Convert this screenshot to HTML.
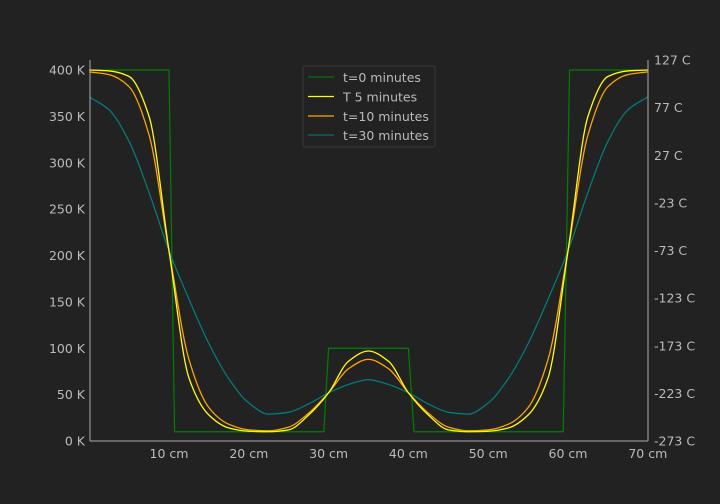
<!DOCTYPE html>
<html><head><meta charset="utf-8"><style>
html,body{margin:0;padding:0;background:#222222;}
svg{display:block;font-family:"DejaVu Sans","Liberation Sans",sans-serif;}
</style></head><body>
<svg id="chart" width="720" height="504" viewBox="0 0 720 504">
<rect width="720" height="504" fill="#222222"/>
<g id="plot"></g>
<g id="axes"></g>
<g>
<rect x="303" y="66" width="132" height="81" rx="2" fill="#222222" stroke="#3a3a3a"/>
<line x1="308" y1="77" x2="334" y2="77" stroke="#008000" stroke-width="1"/>
<text x="343" y="82" fill="#bbbbbb" font-size="12.5">t=0 minutes</text>
<line x1="308" y1="96.5" x2="334" y2="96.5" stroke="#ffff00" stroke-width="1.3"/>
<text x="343" y="101.5" fill="#bbbbbb" font-size="12.5">T 5 minutes</text>
<line x1="308" y1="116" x2="334" y2="116" stroke="#ffa500" stroke-width="1.3"/>
<text x="343" y="121" fill="#bbbbbb" font-size="12.5">t=10 minutes</text>
<line x1="308" y1="135" x2="334" y2="135" stroke="#008080" stroke-width="1"/>
<text x="343" y="140" fill="#bbbbbb" font-size="12.5">t=30 minutes</text>
</g>
</svg>
<script>
const t0X = [0,10,10.7,29.4,30,40,40.7,59.4,60.2,70];
const t0Y = [400,400,10,10,100,100,10,10,400,400];
const gridX = [0,2.5,5,7.5,10,12.5,15,17.5,20,22.5,25,27.5,30,32.5,35,37.5,40,42.5,45,47.5,50,52.5,55,57.5,60,62.5,65,67.5,70];
const t5Y  = [400,399,393,350,205,68,28,14,10.5,10,12,28,52,86,97,86,52,28,12,10,10.5,14,28,68,205,350,393,399,400];
const t10Y = [398,395,382,330,205,88,36,18,12,11,15,30,52,78,88,78,52,30,15,11,12,18,36,88,205,330,382,395,398];
const t30Y = [371,357,323,268,205,153,105,67,41,29,31,40,52,61,66,61,52,40,31,29,41,67,105,153,205,268,323,357,371];
const xTicks = [10,20,30,40,50,60,70];
const yTicks = [0,50,100,150,200,250,300,350,400];
const cTicks = [-273,-223,-173,-123,-73,-23,27,77,127];

const X0=89.2, XPX=7.98, Y0=441, YPX=0.9275;
function sx(v){return X0+v*XPX;}
function sy(v){return Y0-v*YPX;}
function cy(c){return 441-(c+273)*(381/400);}
const NS="http://www.w3.org/2000/svg";
const plot=document.getElementById('plot'), axes=document.getElementById('axes');
function mk(tag,attrs,parent){const e=document.createElementNS(NS,tag);for(const k in attrs)e.setAttribute(k,attrs[k]);parent.appendChild(e);return e;}

function curve(xs,ys,color,w,name){
  const d=xs.map((x,i)=>(i?'L':'M')+sx(x).toFixed(2)+','+sy(ys[i]).toFixed(2)).join(' ');
  const p=mk('path',{d:d,fill:'none',stroke:color,'stroke-width':w,'stroke-linejoin':'round'},plot);
  
  
}
function smooth(xs,ys,color,w,name){
  // monotone cubic (Fritsch-Carlson)
  const n=xs.length, h=[], dl=[], m=new Array(n);
  for(let i=0;i<n-1;i++){h[i]=xs[i+1]-xs[i];dl[i]=(ys[i+1]-ys[i])/h[i];}
  m[0]=dl[0];m[n-1]=dl[n-2];
  for(let i=1;i<n-1;i++){
    if(dl[i-1]*dl[i]<=0)m[i]=0;
    else{const w1=2*h[i]+h[i-1],w2=h[i]+2*h[i-1];m[i]=(w1+w2)/(w1/dl[i-1]+w2/dl[i]);}
  }
  let d='M'+sx(xs[0])+','+sy(ys[0]);
  for(let i=0;i<n-1;i++){
    const x1=xs[i]+h[i]/3,y1=ys[i]+m[i]*h[i]/3,x2=xs[i+1]-h[i]/3,y2=ys[i+1]-m[i+1]*h[i]/3;
    d+=' C'+sx(x1)+','+sy(y1)+' '+sx(x2)+','+sy(y2)+' '+sx(xs[i+1])+','+sy(ys[i+1]);
  }
  const p=mk('path',{d:d,fill:'none',stroke:color,'stroke-width':w},plot);
  
  
}
curve(t0X,t0Y,'#008000',1.2,'series-t0');
smooth(gridX,t30Y,'#008080',1.2,'series-t30');
smooth(gridX,t10Y,'#ffa500',1.3,'series-t10');
smooth(gridX,t5Y,'#ffff00',1.3,'series-t5');

const la=mk('line',{x1:90,y1:60,x2:90,y2:441,stroke:'#aaaaaa','stroke-width':1},axes);


const ra=mk('line',{x1:648,y1:60,x2:648,y2:441,stroke:'#aaaaaa','stroke-width':1},axes);


const ba=mk('line',{x1:90,y1:441,x2:648,y2:441,stroke:'#aaaaaa','stroke-width':1},axes);



xTicks.forEach(v=>{
  const t=mk('text',{x:sx(v),y:458,fill:'#bbbbbb','font-size':12.5,'text-anchor':'middle'},axes);
  t.textContent=v+' cm';
  
  
});
yTicks.forEach(v=>{
  const t=mk('text',{x:85,y:sy(v)+4.5,fill:'#bbbbbb','font-size':12.5,'text-anchor':'end'},axes);
  t.textContent=v+' K';
  
  
});
cTicks.forEach(v=>{
  const t=mk('text',{x:654,y:cy(v)+4.5,fill:'#bbbbbb','font-size':12.5,'text-anchor':'start'},axes);
  t.textContent=v+' C';
  
  
});
</script>
</body></html>
